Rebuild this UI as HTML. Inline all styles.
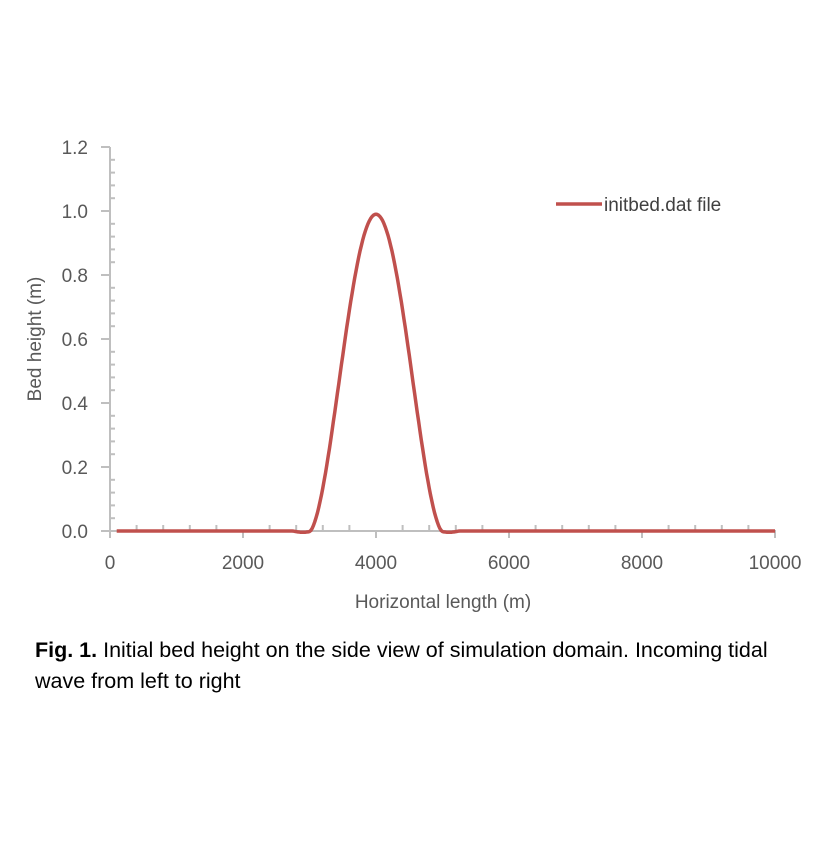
<!DOCTYPE html>
<html><head><meta charset="utf-8"><style>
body{margin:0;background:#fff;width:839px;height:844px;overflow:hidden;font-family:"Liberation Sans",sans-serif}
.cap{position:absolute;left:35px;top:635px;font-size:21.5px;color:#000;line-height:31px;width:820px;white-space:nowrap}
</style></head><body>
<svg width="839" height="844" style="position:absolute;left:0;top:0" font-family="Liberation Sans, sans-serif">
<g stroke="#bfbfbf" stroke-width="2" fill="none" id="ax"></g>
<g font-size="19" fill="#595959" text-anchor="end">
<text x="88" y="154">1.2</text><text x="88" y="218">1.0</text><text x="88" y="282">0.8</text>
<text x="88" y="346">0.6</text><text x="88" y="410">0.4</text><text x="88" y="474">0.2</text><text x="88" y="538">0.0</text>
</g>
<g font-size="19" fill="#595959" text-anchor="middle">
<text x="110" y="569">0</text><text x="243" y="569">2000</text><text x="376" y="569">4000</text>
<text x="509" y="569">6000</text><text x="642" y="569">8000</text><text x="775" y="569">10000</text>
</g>
<text x="443" y="608" font-size="19" fill="#595959" text-anchor="middle">Horizontal length (m)</text>
<text transform="translate(41,339) rotate(-90)" font-size="19" fill="#595959" text-anchor="middle">Bed height (m)</text>
<line x1="556" y1="204" x2="602" y2="204" stroke="#c0504d" stroke-width="3.5"/>
<text x="604" y="211" font-size="19" fill="#404040">initbed.dat file</text>
<path id="c" fill="none" stroke="#c0504d" stroke-width="3.5" stroke-linejoin="round"/>
</svg>
<div class="cap"><b>Fig. 1.</b> Initial bed height on the side view of simulation domain. Incoming tidal<br>wave from left to right</div>
<script>
var g=document.getElementById('ax'),s='';
s+='<line x1="110" y1="147" x2="110" y2="531"/><line x1="101" y1="531" x2="776" y2="531"/>';
for(var i=0;i<=30;i++){var y=531-i*12.8;if(i%5==0)s+='<line x1="101" y1="'+y+'" x2="110" y2="'+y+'"/>';else s+='<line x1="110" y1="'+y+'" x2="115" y2="'+y+'"/>';}
for(var i=0;i<=25;i++){var x=110+i*26.6;if(i%5==0)s+='<line x1="'+x+'" y1="531" x2="'+x+'" y2="538"/>';else s+='<line x1="'+x+'" y1="525" x2="'+x+'" y2="531"/>';}
g.innerHTML=s;
var d='';
for(var m=100;m<=10000;m+=20){var h=0;if(m>3000&&m<5000){var c=Math.cos(Math.PI*(m-4000)/2000);h=0.99*Math.pow(c*c,0.85);}
if(m>2750&&m<3050)h-=0.004*Math.sin(Math.PI*(m-2750)/300);
if(m>4950&&m<5250)h-=0.004*Math.sin(Math.PI*(m-4950)/300);
var x=110+m*0.0665,y=531-h*320;d+=(d?'L':'M')+x.toFixed(1)+','+y.toFixed(1);}
document.getElementById('c').setAttribute('d',d);
</script>
</body></html>
